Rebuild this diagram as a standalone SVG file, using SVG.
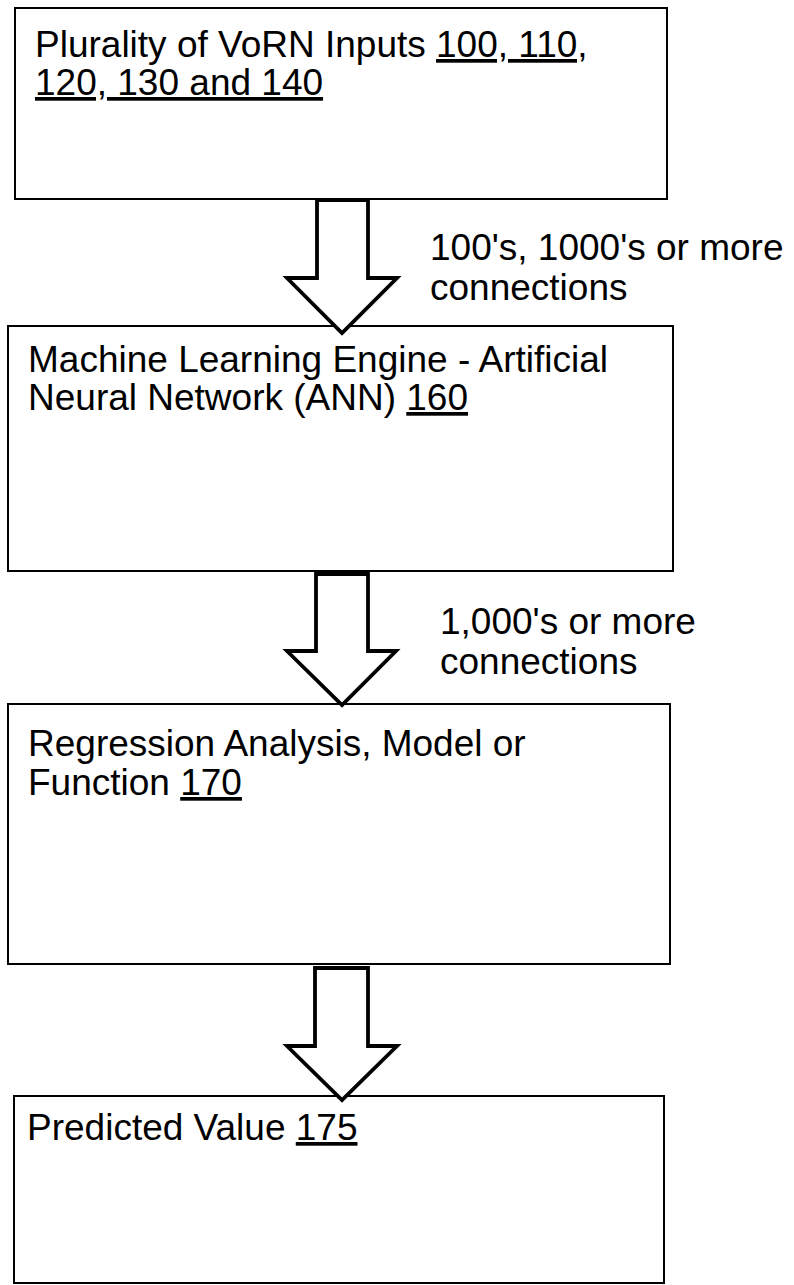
<svg xmlns="http://www.w3.org/2000/svg" width="794" height="1285" viewBox="0 0 794 1285">
  <style>
    .box { fill: #fff; stroke: #000; stroke-width: 2; }
    .arrow { fill: #fff; stroke: #000; stroke-width: 3.8; stroke-linejoin: miter; }
    text { font-family: "Liberation Sans", Arial, sans-serif; font-size: 37px; fill: #000; }
    .ref { text-decoration: underline; }
  </style>
  <rect width="794" height="1285" fill="#fff"/>

  <g id="inputs">
    <rect class="box" x="15" y="8" width="652" height="191"/>
    <text x="35" y="57">Plurality of VoRN Inputs <tspan class="ref">100, 110,</tspan></text>
    <text x="35" y="95"><tspan class="ref">120, 130 and 140</tspan></text>
  </g>

  <g id="ann">
    <rect class="box" x="8" y="326" width="665" height="245"/>
    <text x="28" y="372">Machine Learning Engine - Artificial</text>
    <text x="28" y="410">Neural Network (ANN) <tspan class="ref">160</tspan></text>
  </g>

  <g id="regression">
    <rect class="box" x="8" y="704" width="662" height="260"/>
    <text x="28" y="756">Regression Analysis, Model or</text>
    <text x="28" y="795">Function <tspan class="ref">170</tspan></text>
  </g>

  <g id="predicted">
    <rect class="box" x="14" y="1096" width="650" height="187"/>
    <text x="27" y="1140">Predicted Value <tspan class="ref">175</tspan></text>
  </g>

  <g id="connectors">
    <polygon class="arrow" points="317,200 368,200 368,278 397,278 342,333 287,278 317,278"/>
    <polygon class="arrow" points="316,574 368,574 368,651 396,651 342,705 287,651 316,651"/>
    <polygon class="arrow" points="315,968 368,968 368,1046 397,1046 342,1100 287,1046 315,1046"/>
    <text x="430" y="260">100's, 1000's or more</text>
    <text x="430" y="300">connections</text>
    <text x="440" y="634">1,000's or more</text>
    <text x="440" y="674">connections</text>
  </g>
</svg>
